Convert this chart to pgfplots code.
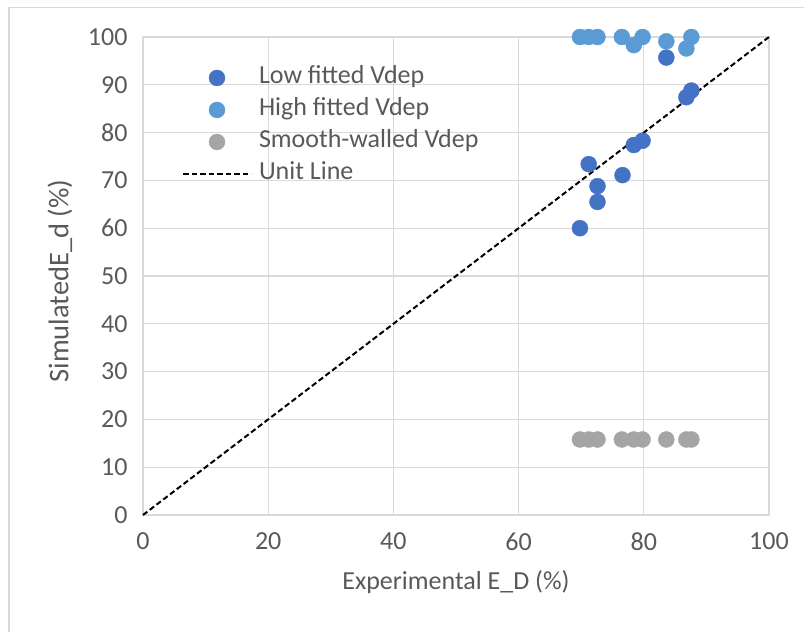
\documentclass[border=0pt]{standalone}
\usepackage{fontspec}
\setmainfont{Carlito}
\usepackage{pgfplots}
\pgfplotsset{compat=1.18}
\definecolor{lowc}{HTML}{4472C4}
\definecolor{highc}{HTML}{5B9BD5}
\definecolor{smoothc}{HTML}{A5A5A5}
\definecolor{gridc}{HTML}{D9D9D9}
\definecolor{textc}{HTML}{595959}
\begin{document}
\begin{tikzpicture}
\path[use as bounding box] (0,0) rectangle (804pt,632pt);
% chart frame
\draw[gridc, line width=1.5pt] (9pt,0pt) -- (9pt,624.5pt) -- (804pt,624.5pt);
\begin{axis}[
  at={(143pt,117pt)}, anchor=south west,
  scale only axis, width=626pt, height=478pt,
  xmin=0, xmax=100, ymin=0, ymax=100,
  xtick={0,20,...,100}, ytick={0,10,...,100},
  grid=major,
  major grid style={gridc, line width=1.3pt},
  axis line style={gridc, line width=1.3pt},
  tick style={draw=none},
  ticklabel style={font=\fontsize{26}{30}\selectfont, text=textc},
  /pgf/number format/assume math mode=true,
  yticklabel style={xshift=-12pt},
  xticklabel style={yshift=-14pt},
  clip=false,
  legend cell align=left,
  legend style={at={(0.062,0.944)}, anchor=north west, draw=none, fill=none,
    font=\fontsize{26}{30}\selectfont, text=textc, row sep=4pt,
    inner sep=0pt,
    nodes={inner sep=2pt, text height=18pt, text depth=6pt},
    /tikz/every odd column/.style={column sep=5pt}},
]
% unit line, drawn beneath the points
\addplot[black, line width=2pt, dash pattern=on 5.5pt off 3pt, forget plot] coordinates {(0,0) (100,100)};
\addplot[only marks, mark=*, mark size=8pt, mark options={draw=lowc, fill=lowc},
  legend image code/.code={\fill[lowc] (34pt,0) circle (8pt); \path[draw=none] (0,0) -- (68pt,0);}]
  coordinates {(69.8,60.0) (71.2,73.4) (72.6,68.8) (72.6,65.5) (76.6,71.1)
    (78.4,77.4) (79.8,78.3) (83.6,95.7) (86.8,87.4) (87.6,88.8)};
\addlegendentry{Low fitted Vdep}
\addplot[only marks, mark=*, mark size=8pt, mark options={draw=highc, fill=highc},
  legend image code/.code={\fill[highc] (34pt,0) circle (8pt); \path[draw=none] (0,0) -- (68pt,0);}]
  coordinates {(69.8,100) (71.2,100) (72.6,100) (76.5,100) (78.4,98.3)
    (79.8,100) (83.6,99.1) (86.8,97.6) (87.6,100)};
\addlegendentry{High fitted Vdep}
\addplot[only marks, mark=*, mark size=8pt, mark options={draw=smoothc, fill=smoothc},
  legend image code/.code={\fill[smoothc] (34pt,0) circle (8pt); \path[draw=none] (0,0) -- (68pt,0);}]
  coordinates {(69.8,15.8) (71.2,15.8) (72.6,15.8) (76.5,15.8) (78.4,15.8)
    (79.8,15.8) (83.6,15.8) (86.8,15.8) (87.6,15.8)};
\addlegendentry{Smooth-walled Vdep}
\addlegendimage{legend image code/.code={\draw[black, line width=2pt, dash pattern=on 5.5pt off 3pt] (0pt,0) -- (68pt,0);}}
\addlegendentry{Unit Line}
\end{axis}
\node[text=textc, font=\fontsize{26}{30}\selectfont] at (456pt,50pt) {Experimental E\_D (\%)};
\node[text=textc, font=\fontsize{28.5}{32}\selectfont, rotate=90] at (60pt,351pt) {SimulatedE\_d (\%)};
\end{tikzpicture}
\end{document}
